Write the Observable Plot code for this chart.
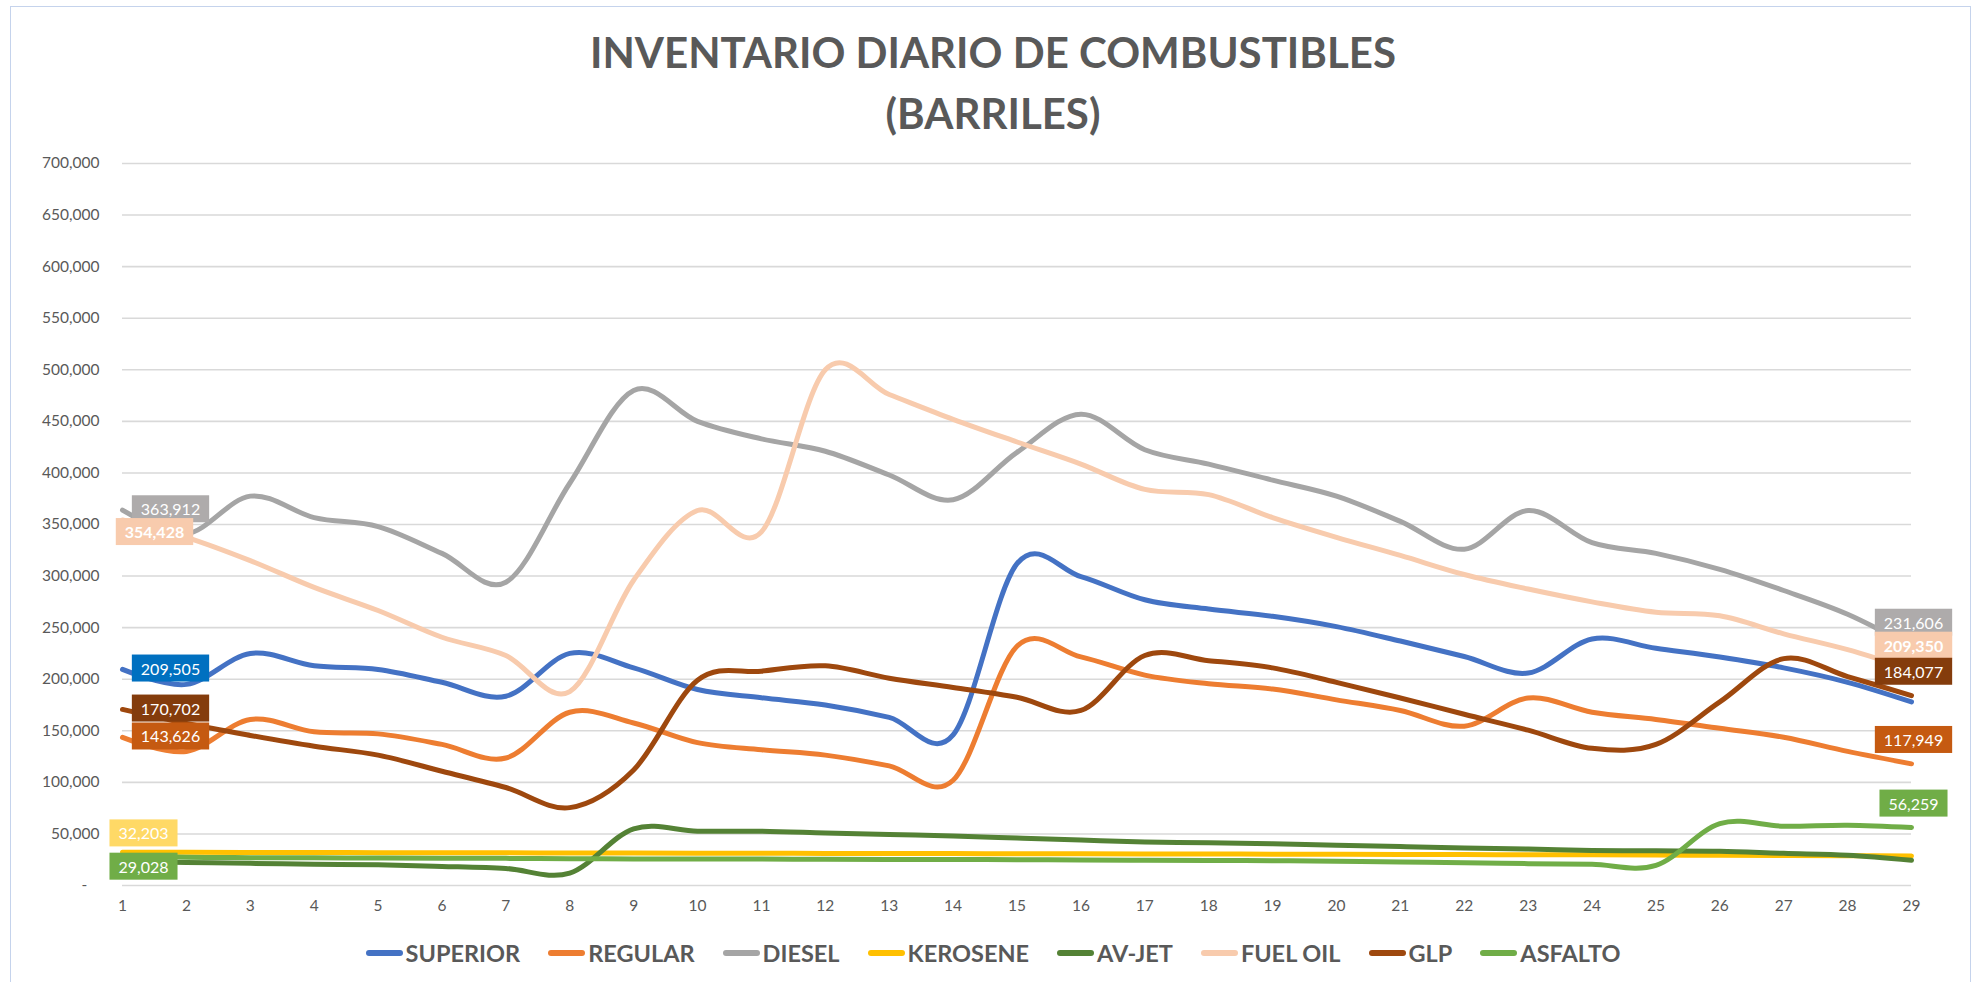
<!DOCTYPE html>
<html>
<head>
<meta charset="utf-8">
<script src="https://cdn.jsdelivr.net/npm/d3@7"></script>
<script src="https://cdn.jsdelivr.net/npm/@observablehq/plot@0.6"></script>
<style>
  html, body { margin: 0; padding: 0; background: #ffffff; }
  body { width: 1979px; height: 982px; position: relative; overflow: hidden; font-family: Lato, "Open Sans", sans-serif; }
  #frame { position: absolute; left: 10px; top: 6px; width: 1961px; height: 980px; border: 1px solid #C5D3EC; box-sizing: border-box; }
  #title { position: absolute; left: 0; top: 22px; width: 1986px; text-align: center; color: #595959; font-weight: 700; font-size: 42px; line-height: 61px; }
  #chart { position: absolute; left: 0; top: 130px; }
  #chart g[aria-label="y-axis tick label"] text, #chart g[aria-label="x-axis tick label"] text { font-size: 15.5px; }
  #legend { position: absolute; left: 0; top: 938px; width: 1986px; height: 30px; display: flex; justify-content: center; align-items: center; gap: 28px; color: #595959; font-weight: 700; font-size: 23.5px; }
  .item { display: flex; align-items: center; gap: 3px; }
  .sw { display: inline-block; width: 37px; height: 6px; border-radius: 3px; }
</style>
</head>
<body>
<div id="frame"></div>
<div id="title">INVENTARIO DIARIO DE COMBUSTIBLES<br>(BARRILES)</div>
<div id="chart"></div>
<div id="legend"></div>
<script>
// ---- data ----
const days = [1,2,3,4,5,6,7,8,9,10,11,12,13,14,15,16,17,18,19,20,21,22,23,24,25,26,27,28,29];
const seriesNames = ["SUPERIOR","REGULAR","DIESEL","KEROSENE","AV-JET","FUEL OIL","GLP","ASFALTO"];
const superior = [209505,195000,225000,213000,209500,197000,183500,225000,211000,190000,182000,175000,163000,146000,312000,299500,277000,268000,261000,251000,237000,222000,206000,239000,230000,221500,211000,197000,178000];
const regular  = [143626,130000,161000,149000,147000,136800,123600,168000,157600,138500,131600,126400,116000,102000,232000,221600,204000,195600,190500,180000,169700,154500,181800,168000,161000,152400,143700,130000,117949];
const diesel   = [363912,341000,377500,356700,348000,322000,294000,390000,480000,450000,433000,421000,398000,374000,420000,457000,422500,408600,393000,377500,353000,326000,363600,332400,322000,306500,286000,263000,231606];
const kerosene = [32203,32150,32000,31950,31800,31700,31650,31500,31450,31300,31250,31100,31000,30950,30800,30700,30650,30500,30400,30300,30150,30000,29800,29700,29500,29300,29100,28900,28700];
const avjet    = [23500,22300,21500,20500,20000,18500,16500,12000,55000,52600,52600,51000,49500,48000,46000,44000,42200,41500,40500,39000,37700,36400,35400,34000,33600,33300,31200,29400,24500];
const fueloil  = [354428,337600,315000,289000,266600,240700,223000,188000,296000,363600,342800,500000,476000,452000,430000,408600,384000,379000,356700,337600,320000,301500,287400,275000,265000,261500,244000,228600,209350];
const glp      = [170702,157000,145500,135000,126400,110800,95000,75500,112000,199000,207800,213000,201000,192000,182500,169700,223000,218000,211000,197000,181800,166000,150600,133000,136800,178000,220000,202600,184077];
const asfalto  = [29028,27400,27000,26800,26700,26500,26300,26000,25800,25700,25600,25400,25300,25200,25000,24800,24500,24300,24000,23500,22800,22000,21200,20500,19500,60000,57500,58500,56259];
const yTicks = [0,50000,100000,150000,200000,250000,300000,350000,400000,450000,500000,550000,600000,650000,700000];
// labelled points: [series, day]
const labelPoints = [
  ["SUPERIOR",1],["DIESEL",1],["KEROSENE",1],["FUEL OIL",1],["GLP",1],["REGULAR",1],["ASFALTO",1],
  ["REGULAR",29],["DIESEL",29],["FUEL OIL",29],["GLP",29],["ASFALTO",29]
];

// ---- styles ----
const lineColors = ["#4472C4","#ED7D31","#A5A5A5","#FFC000","#548235","#F8CBAD","#9E480E","#70AD47"];
const boxColors = {"SUPERIOR":"#0070C0","REGULAR":"#C55A11","DIESEL":"#AEABAB","KEROSENE":"#FFD966","FUEL OIL":"#F8CBAD","GLP":"#843C0C","ASFALTO":"#70AD47"};
const startOffsets = {"SUPERIOR":[48,0],"REGULAR":[48,0],"DIESEL":[48,0],"GLP":[48,0],"FUEL OIL":[32,13],"KEROSENE":[21,-18],"ASFALTO":[21,12]};
const endOffset = [2,-23];

const valuesBySeries = {"SUPERIOR":superior,"REGULAR":regular,"DIESEL":diesel,"KEROSENE":kerosene,"AV-JET":avjet,"FUEL OIL":fueloil,"GLP":glp,"ASFALTO":asfalto};
const rows = [];
for (const s of seriesNames) valuesBySeries[s].forEach((v,i) => rows.push({series:s, day:days[i], value:v}));

const fmt = d3.format(",");
const labelOrder = seriesNames.filter(s => s !== "AV-JET");
const labels = [];
for (const s of labelOrder) for (const [ls, day] of labelPoints) if (ls === s) labels.push({series:s, day, value:valuesBySeries[s][days.indexOf(day)]});

const labelMarks = labels.map((d,i) => {
  const off = d.day === 1 ? startOffsets[d.series] : endOffset;
  return Plot.text([d], {x:"day", y:"value", text: r => fmt(r.value), dx: off[0], dy: off[1],
    fill:"#ffffff", fontSize:16, fontWeight: d.series === "FUEL OIL" ? "bold" : "normal",
    textAnchor:"middle", className:"lbl lbl-" + i});
});

const chart = Plot.plot({
  width: 1979, height: 800,
  marginLeft: 122, marginRight: 68, marginTop: 33, marginBottom: 45,
  style: {fontFamily: "Lato, sans-serif", fontSize: "15px", color: "#595959", background: "transparent", overflow: "visible"},
  x: {type:"linear", domain:[1,29], ticks: days, tickFormat: d => String(d), label: null},
  y: {domain:[0,700000], ticks: yTicks, label: null},
  color: {domain: seriesNames, range: lineColors},
  marks: [
    Plot.gridY(yTicks, {stroke:"#D9D9D9", strokeOpacity:1, strokeWidth:1.6}),
    Plot.axisX(days, {tickSize:0, tickPadding:14, tickFormat: d => String(d), fill:"#595959"}),
    Plot.axisY(yTicks, {tickSize:0, tickPadding:23, tickFormat: d => d === 0 ? "-\u2007\u2008" : fmt(d), fill:"#595959"}),
    Plot.line(rows, {x:"day", y:"value", z:"series", stroke:"series", curve:"cardinal", strokeWidth:5, strokeLinecap:"round", strokeLinejoin:"round"}),
    ...labelMarks
  ]
});
document.getElementById("chart").appendChild(chart);

// background boxes behind data labels
labels.forEach((d,i) => {
  const g = chart.querySelector("g.lbl-" + i);
  if (!g) return;
  g.querySelectorAll("text").forEach(t => {
    const bb = t.getBBox();
    const r = document.createElementNS("http://www.w3.org/2000/svg","rect");
    const w = bb.width + 18, h = 27;
    r.setAttribute("x", bb.x + bb.width/2 - w/2);
    r.setAttribute("y", bb.y + bb.height/2 - h/2);
    r.setAttribute("width", w);
    r.setAttribute("height", h);
    r.setAttribute("fill", boxColors[d.series]);
    const tr = t.getAttribute("transform");
    if (tr) r.setAttribute("transform", tr);
    g.insertBefore(r, t);
  });
});

// legend
const legend = document.getElementById("legend");
seriesNames.forEach((s,i) => {
  const it = document.createElement("span"); it.className = "item";
  const sw = document.createElement("span"); sw.className = "sw"; sw.style.background = lineColors[i];
  const tx = document.createElement("span"); tx.textContent = s;
  it.appendChild(sw); it.appendChild(tx); legend.appendChild(it);
});
</script>
</body>
</html>
